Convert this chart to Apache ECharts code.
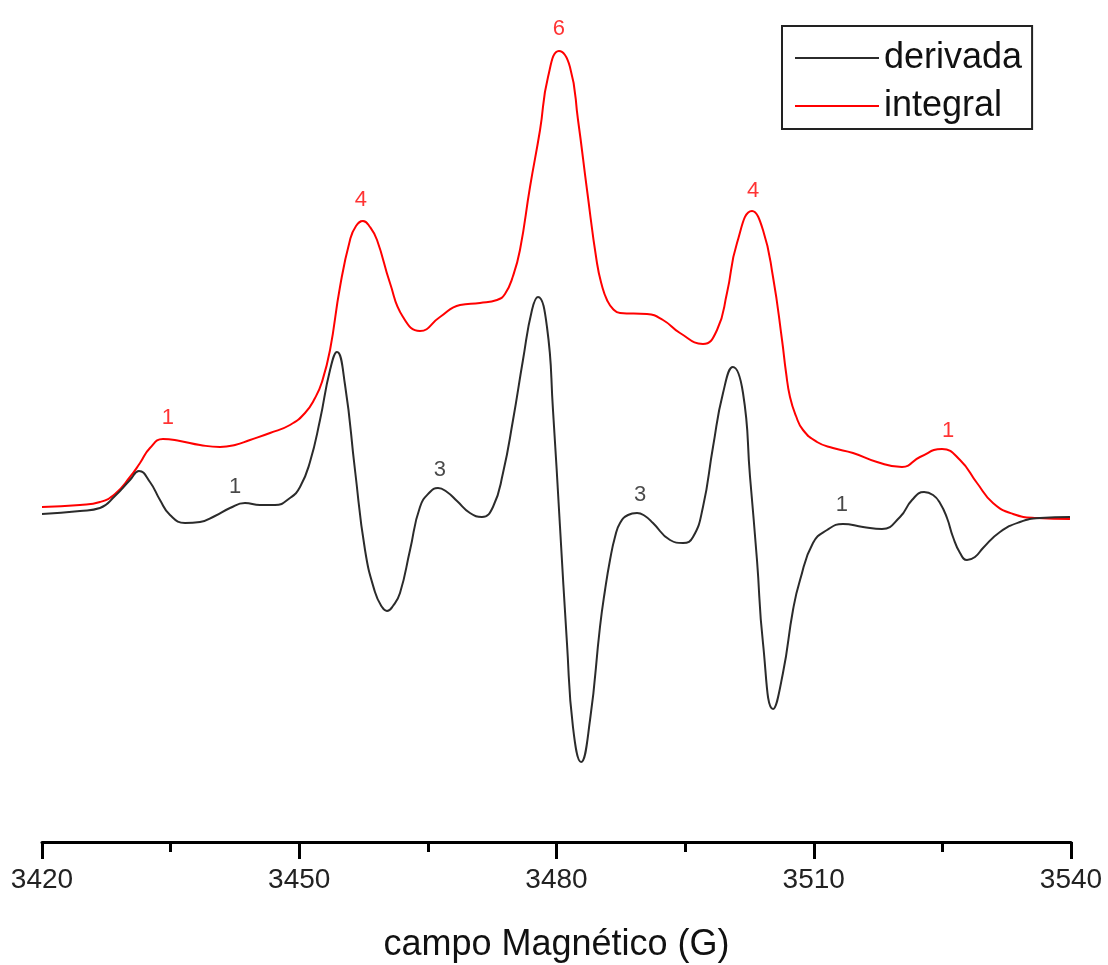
<!DOCTYPE html>
<html>
<head>
<meta charset="utf-8">
<title>Espectro EPR</title>
<script src="https://cdn.jsdelivr.net/npm/echarts@6/dist/echarts.min.js"></script>
<style>
  html, body { margin: 0; padding: 0; background: #fff; }
  #chart { width: 1108px; height: 965px; }
</style>
</head>
<body>
<div id="chart"></div>
<script>
// Magnetic field (G) and first-derivative EPR signal (a.u.)
const fieldDeriv = [
  3420.00, 3424.43, 3426.76, 3428.51, 3430.26, 3431.31, 3432.59, 3433.76, 3434.93, 3436.68,
  3438.43, 3440.17, 3441.92, 3443.67, 3445.42, 3447.17, 3448.92, 3450.09, 3451.25, 3452.42,
  3453.59, 3454.40, 3455.34, 3456.50, 3457.67, 3458.83, 3459.65, 3460.23, 3460.93, 3461.75,
  3462.92, 3464.08, 3465.25, 3466.18, 3467.23, 3468.40, 3469.91, 3471.31, 3472.59, 3473.76,
  3474.93, 3476.09, 3477.14, 3477.84, 3478.89, 3479.59, 3480.41, 3481.22, 3481.92,
  3482.86, 3483.91, 3485.07, 3485.66, 3486.24, 3486.82, 3487.41, 3488.34, 3489.39,
  3490.32, 3491.25, 3493.24, 3494.75, 3495.92, 3497.08, 3498.25, 3499.42, 3500.58,
  3501.75, 3502.57, 3503.38, 3504.08, 3505.25, 3506.41, 3507.58,
  3508.40, 3509.91, 3511.55, 3513.41, 3515.74, 3517.96, 3520.06, 3521.46, 3522.86, 3523.91,
  3524.72, 3525.54, 3526.24, 3527.06, 3527.87, 3528.80, 3529.74, 3531.72, 3534.05, 3536.38,
  3539.88
];
const deriv = [
  0.03, 0.06, 0.09, 0.21, 0.37, 0.46, 0.35, 0.17, 0.02, -0.06,
  -0.05, 0.01, 0.09, 0.14, 0.12, 0.12, 0.19, 0.30, 0.55, 0.97,
  1.47, 1.65, 1.32, 0.47, -0.33, -0.75, -0.90, -0.94, -0.89, -0.76,
  -0.33, 0.10, 0.25, 0.29, 0.25, 0.16, 0.04, 0.00, 0.10, 0.44,
  0.97, 1.57, 2.07, 2.20, 1.90, 1.07, -0.10, -1.26, -2.10,
  -2.45, -2.03, -1.10, -0.73, -0.43, -0.20, -0.06, 0.02, 0.04,
  0.01, -0.06, -0.23, -0.26, -0.20, 0.10, 0.70, 1.24, 1.50,
  1.24, 0.40, -0.43, -1.26, -1.92, -1.56, -0.93,
  -0.63, -0.26, -0.13, -0.07, -0.10, -0.12, 0.00, 0.17, 0.25, 0.22,
  0.14, -0.01, -0.20, -0.36, -0.43, -0.40, -0.31, -0.15, -0.05, -0.01,
  0.00
];

// Magnetic field (G) and integrated absorption signal (a.u.)
const fieldInteg = [
  3420.00, 3424.43, 3426.76, 3428.51, 3430.26, 3431.43, 3432.59, 3434.11, 3436.09, 3438.43,
  3440.76, 3442.51, 3444.26, 3446.59, 3448.92, 3450.67, 3451.84, 3452.65, 3453.59, 3454.75,
  3455.92, 3456.62, 3457.43, 3458.25, 3459.07, 3460.58, 3462.10, 3464.08, 3466.41, 3468.75,
  3471.08, 3473.06, 3473.99, 3474.93, 3475.74, 3476.91, 3478.08, 3479.01, 3480.29,
  3481.57, 3482.51, 3483.56, 3484.72, 3485.31, 3485.89, 3486.59, 3487.41, 3490.55,
  3492.42, 3494.40, 3497.08, 3498.72, 3499.88, 3501.05, 3502.80, 3504.08,
  3505.25, 3506.30, 3506.76, 3507.23, 3507.93, 3508.75, 3510.38, 3512.24, 3514.58, 3517.38,
  3520.29, 3522.39, 3524.96, 3527.06, 3529.04, 3530.90, 3533.24, 3536.03, 3539.88
];
const integ = [
  0.10, 0.12, 0.15, 0.23, 0.40, 0.54, 0.69, 0.78, 0.76, 0.72,
  0.70, 0.72, 0.77, 0.84, 0.92, 1.04, 1.19, 1.35, 1.67, 2.30,
  2.77, 2.91, 2.96, 2.90, 2.77, 2.34, 2.00, 1.86, 2.00, 2.12,
  2.14, 2.17, 2.23, 2.41, 2.67, 3.30, 3.87, 4.40, 4.66,
  4.50, 3.97, 3.27, 2.54, 2.31, 2.17, 2.08, 2.04, 2.03,
  1.97, 1.84, 1.73, 1.87, 2.24, 2.74, 3.06, 2.87,
  2.40, 1.77, 1.45, 1.20, 1.01, 0.87, 0.75, 0.69, 0.64, 0.55,
  0.50, 0.60, 0.68, 0.57, 0.34, 0.14, 0.03, -0.01, -0.02
];

// Hyperfine line multiplicities written over the peaks
const derivLabelField = [3442.51, 3466.41, 3489.74, 3513.29];
const derivLabelText  = ['1', '3', '3', '1'];
const integLabelField = [3434.69, 3457.20, 3480.29, 3502.92, 3525.66];
const integLabelText  = ['1', '4', '6', '4', '1'];

const xTicks = { min: 3420, max: 3540, step: 30 };

function pairs(xs, ys) {
  return xs.map((x, i) => [x, ys[i]]);
}

// linear interpolation of a curve at field x (used to seat the multiplicity labels)
function valueAt(xs, ys, x) {
  for (let i = 0; i < xs.length - 1; i++) {
    if (x >= xs[i] && x <= xs[i + 1]) {
      const t = (x - xs[i]) / (xs[i + 1] - xs[i]);
      return ys[i] + t * (ys[i + 1] - ys[i]);
    }
  }
  return ys[ys.length - 1];
}

function labelPoints(fields, texts, xs, ys) {
  return fields.map((f, i) => ({ value: [f, valueAt(xs, ys, f)], name: texts[i] }));
}

const FONT = "'Liberation Sans', Arial, sans-serif";

const chart = echarts.init(document.getElementById('chart'), null, { renderer: 'canvas' });

chart.setOption({
  backgroundColor: '#ffffff',
  animation: false,
  grid: { left: 42, right: 37, top: 0, bottom: 123, containLabel: false, outerBoundsMode: 'none' },
  legend: {
    data: ['derivada', 'integral'],
    orient: 'vertical',
    left: 782,
    top: 26,
    padding: [14, 10, 5, 12],
    itemGap: 12,
    itemWidth: 84,
    itemHeight: 1,
    borderColor: '#222',
    borderWidth: 2,
    itemStyle: { opacity: 0 },
    textStyle: { fontSize: 36, fontFamily: FONT, color: '#111' }
  },
  xAxis: {
    type: 'value',
    min: xTicks.min,
    max: xTicks.max,
    interval: xTicks.step,
    name: 'campo Magnético (G)',
    nameLocation: 'middle',
    nameGap: 85,
    nameTextStyle: { fontSize: 36, fontFamily: FONT, color: '#111' },
    axisLine: { show: true, onZero: false, lineStyle: { color: '#000', width: 3 } },
    axisTick: { show: true, length: 17, lineStyle: { color: '#000', width: 3 } },
    minorTick: { show: true, splitNumber: 2, length: 10, lineStyle: { color: '#000', width: 3 } },
    splitLine: { show: false },
    minorSplitLine: { show: false },
    axisLabel: {
      fontSize: 28, fontFamily: FONT, color: '#222', margin: 24,
      formatter: (v) => String(v)
    }
  },
  yAxis: {
    type: 'value',
    show: false,
    min: -3.25,
    max: 5.17,
    splitLine: { show: false }
  },
  series: [
    {
      name: 'derivada',
      type: 'line',
      data: pairs(fieldDeriv, deriv),
      smooth: 0.5,
      symbol: 'none',
      lineStyle: { color: '#2b2b2b', width: 2 },
      itemStyle: { color: '#2b2b2b' },
      z: 3
    },
    {
      name: 'integral',
      type: 'line',
      data: pairs(fieldInteg, integ),
      smooth: 0.5,
      symbol: 'none',
      lineStyle: { color: '#ff0000', width: 2 },
      itemStyle: { color: '#ff0000' },
      z: 2
    },
    {
      name: 'multiplicidade derivada',
      type: 'scatter',
      data: labelPoints(derivLabelField, derivLabelText, fieldDeriv, deriv),
      symbolSize: 0,
      itemStyle: { color: 'rgba(0,0,0,0)' },
      label: {
        show: true, position: 'top', distance: 8, formatter: '{b}',
        fontSize: 22, fontFamily: FONT, color: '#1a1a1a'
      },
      silent: true,
      z: 4
    },
    {
      name: 'multiplicidade integral',
      type: 'scatter',
      data: labelPoints(integLabelField, integLabelText, fieldInteg, integ),
      symbolSize: 0,
      itemStyle: { color: 'rgba(0,0,0,0)' },
      label: {
        show: true, position: 'top', distance: 11, formatter: '{b}',
        fontSize: 22, fontFamily: FONT, color: '#ff0000'
      },
      silent: true,
      z: 4
    }
  ]
});
</script>
</body>
</html>
